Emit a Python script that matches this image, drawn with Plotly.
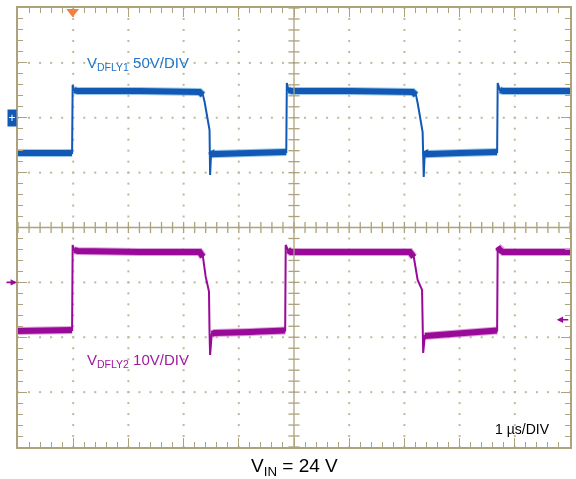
import plotly.graph_objects as go

# scope screen: 10 div x 8 div, 1 us/div
# channel 1 - V_DFLY1, 50 V/div, ground marker 2 div above centre
t1 = [0.0, 0.98, 0.99, 1.02, 1.08, 2.20, 3.29, 3.35, 3.38, 3.41, 3.44, 3.47, 3.48, 3.50, 3.53,
      4.20, 4.86, 4.87, 4.90, 4.96, 6.01, 7.15, 7.21, 7.24, 7.28, 7.33, 7.35, 7.37, 7.41,
      8.01, 8.68, 8.69, 8.73, 8.79, 10.0]
v1 = [-32.2, -32.2, 29.8, 25.2, 24.3, 24.3, 23.4, 20.7, 14.6, 7.0, -2.1, -11.2, -52.2, -30.3, -33.1,
      -32.2, -31.2, 31.6, 25.2, 24.3, 24.3, 23.4, 20.7, 13.4, -0.3, -13.0, -54.0, -30.3, -33.1,
      -32.2, -31.2, 31.6, 25.2, 24.3, 24.3]

# channel 2 - V_DFLY2, 10 V/div, ground marker 1 div below centre
t2 = [0.0, 0.98, 0.99, 1.02, 1.08, 2.20, 3.29, 3.35, 3.40, 3.44, 3.46, 3.47, 3.48, 3.51, 3.56,
      4.20, 4.84, 4.85, 4.89, 4.94, 7.10, 7.17, 7.24, 7.32, 7.33, 7.34, 7.37,
      8.01, 8.68, 8.69, 8.73, 8.79, 10.0]
v2 = [-8.85, -8.67, 6.81, 5.90, 5.72, 5.54, 5.54, 4.68, 1.04, -1.02, -1.69, -9.22, -13.22, -9.40, -9.22,
      -9.03, -8.76, 6.81, 5.90, 5.54, 5.54, 4.63, 0.44, -1.38, -9.58, -12.86, -9.76,
      -9.22, -8.76, 6.45, 5.90, 5.54, 5.54]

CH1_VDIV, CH1_POS = 50, 2.0
CH2_VDIV, CH2_POS = 10, -1.0
trig_t = 0.99
ch2_trig_level = -6.8

GRID = "#aca27c"
DOT = "#bfb89d"
BLUE = "#1259b5"
BLUE_HALO = "#5aa6de"
PURPLE = "#990a99"
PURPLE_HALO = "#c763c7"
FONT = "Liberation Sans, Arial, sans-serif"


def to_div(v, vdiv, pos):
    return [x / vdiv + pos for x in v]


def thick_parts(t, y, limit=2):
    # keep only the flat/slow parts, the fast edges stay thin
    xs, ys = [t[0]], [y[0]]
    for i in range(1, len(t)):
        if abs(y[i] - y[i - 1]) / (t[i] - t[i - 1]) > limit:
            xs.append(None)
            ys.append(None)
        xs.append(t[i])
        ys.append(y[i])
    return xs, ys


fig = go.Figure()

# dotted graticule
dx, dy = [], []
for gx in [1, 2, 3, 4, 6, 7, 8, 9]:
    for k in range(41):
        dx.append(gx)
        dy.append(-4 + 0.2 * k)
for gy in [-3, -2, -1, 1, 2, 3]:
    for k in range(51):
        dx.append(0.2 * k)
        dy.append(gy)
fig.add_trace(go.Scatter(x=dx, y=dy, mode="markers",
                         marker=dict(symbol="square", size=2, color=DOT), hoverinfo="skip"))

# centre axes with their ticks
fig.add_shape(type="line", x0=5, x1=5, y0=-4, y1=4, line=dict(color=GRID, width=1.3))
fig.add_shape(type="line", x0=0, x1=10, y0=0, y1=0, line=dict(color=GRID, width=1.3))
fig.add_trace(go.Scatter(x=[0.2 * k for k in range(51)], y=[0] * 51, mode="markers",
                         marker=dict(symbol="line-ns", size=8, line=dict(color=GRID, width=1.3)),
                         hoverinfo="skip"))
fig.add_trace(go.Scatter(x=[5] * 41, y=[-4 + 0.2 * k for k in range(41)], mode="markers",
                         marker=dict(symbol="line-ew", size=8, line=dict(color=GRID, width=1.3)),
                         hoverinfo="skip"))

# traces
for t, v, vdiv, pos, col, halo in [(t1, v1, CH1_VDIV, CH1_POS, BLUE, BLUE_HALO),
                                   (t2, v2, CH2_VDIV, CH2_POS, PURPLE, PURPLE_HALO)]:
    y = to_div(v, vdiv, pos)
    tx, ty = thick_parts(t, y)
    fig.add_trace(go.Scatter(x=tx, y=ty, mode="lines", line=dict(color=halo, width=8),
                             opacity=0.6, hoverinfo="skip"))
    fig.add_trace(go.Scatter(x=t, y=y, mode="lines", line=dict(color=col, width=2)))
    fig.add_trace(go.Scatter(x=tx, y=ty, mode="lines", line=dict(color=col, width=6)))

# trigger position marker
fig.add_trace(go.Scatter(x=[trig_t], y=[3.93], mode="markers", cliponaxis=False,
                         marker=dict(symbol="triangle-down", size=11, color="#f47d3a"),
                         hoverinfo="skip"))

fig.update_xaxes(range=[0, 10], showgrid=False, zeroline=False, showticklabels=False,
                 showline=True, mirror="allticks", linecolor=GRID, linewidth=1.5,
                 ticks="inside", dtick=1, tick0=0, ticklen=9, tickcolor=GRID, tickwidth=1.3,
                 minor=dict(dtick=0.2, tick0=0, ticks="inside", ticklen=5, tickcolor=GRID, tickwidth=1.3))
fig.update_yaxes(range=[-4, 4], showgrid=False, zeroline=False, showticklabels=False,
                 showline=True, mirror="allticks", linecolor=GRID, linewidth=1.5,
                 ticks="inside", dtick=1, tick0=0, ticklen=9, tickcolor=GRID, tickwidth=1.3,
                 minor=dict(dtick=0.2, tick0=0, ticks="inside", ticklen=5, tickcolor=GRID, tickwidth=1.3))

fig.add_annotation(x=1.22, y=2.98, text="V<sub>DFLY1</sub> 50V/DIV", showarrow=False,
                   xanchor="left", yanchor="middle", font=dict(size=15, color="#1f74c8"))
fig.add_annotation(x=1.22, y=-2.43, text="V<sub>DFLY2</sub> 10V/DIV", showarrow=False,
                   xanchor="left", yanchor="middle", font=dict(size=15, color="#a01aa0"))
fig.add_annotation(x=9.67, y=-3.67, text="1 µs/DIV", showarrow=False,
                   xanchor="right", yanchor="middle", font=dict(size=14, color="black"))
fig.add_annotation(x=0.5, xref="paper", y=-0.045, yref="paper", text="V<sub>IN</sub> = 24 V",
                   showarrow=False, xanchor="center", yanchor="middle",
                   font=dict(size=19, color="black"))

# channel markers
fig.add_annotation(x=0, xref="paper", y=CH1_POS, text="+", showarrow=False, xanchor="right",
                   yanchor="middle", xshift=-1, bgcolor=BLUE, width=8, height=16, borderpad=0,
                   font=dict(size=12, color="white"))
fig.add_annotation(x=0, xref="paper", y=CH2_POS, text="", showarrow=True, ax=-12, ay=0,
                   xshift=-1, arrowhead=2, arrowsize=0.8, arrowwidth=1.6, arrowcolor=PURPLE)
fig.add_annotation(x=9.76, y=ch2_trig_level / CH2_VDIV + CH2_POS, text="", showarrow=True,
                   ax=13, ay=0, arrowhead=2, arrowsize=0.8, arrowwidth=1.6, arrowcolor=PURPLE)

fig.update_layout(width=576, height=479, margin=dict(l=18, r=6, t=8, b=32, autoexpand=False),
                  paper_bgcolor="white", plot_bgcolor="white", showlegend=False,
                  font=dict(family=FONT))
fig.write_html("out.html", config={"displayModeBar": False},
               post_script="document.body.style.margin = '0';")
